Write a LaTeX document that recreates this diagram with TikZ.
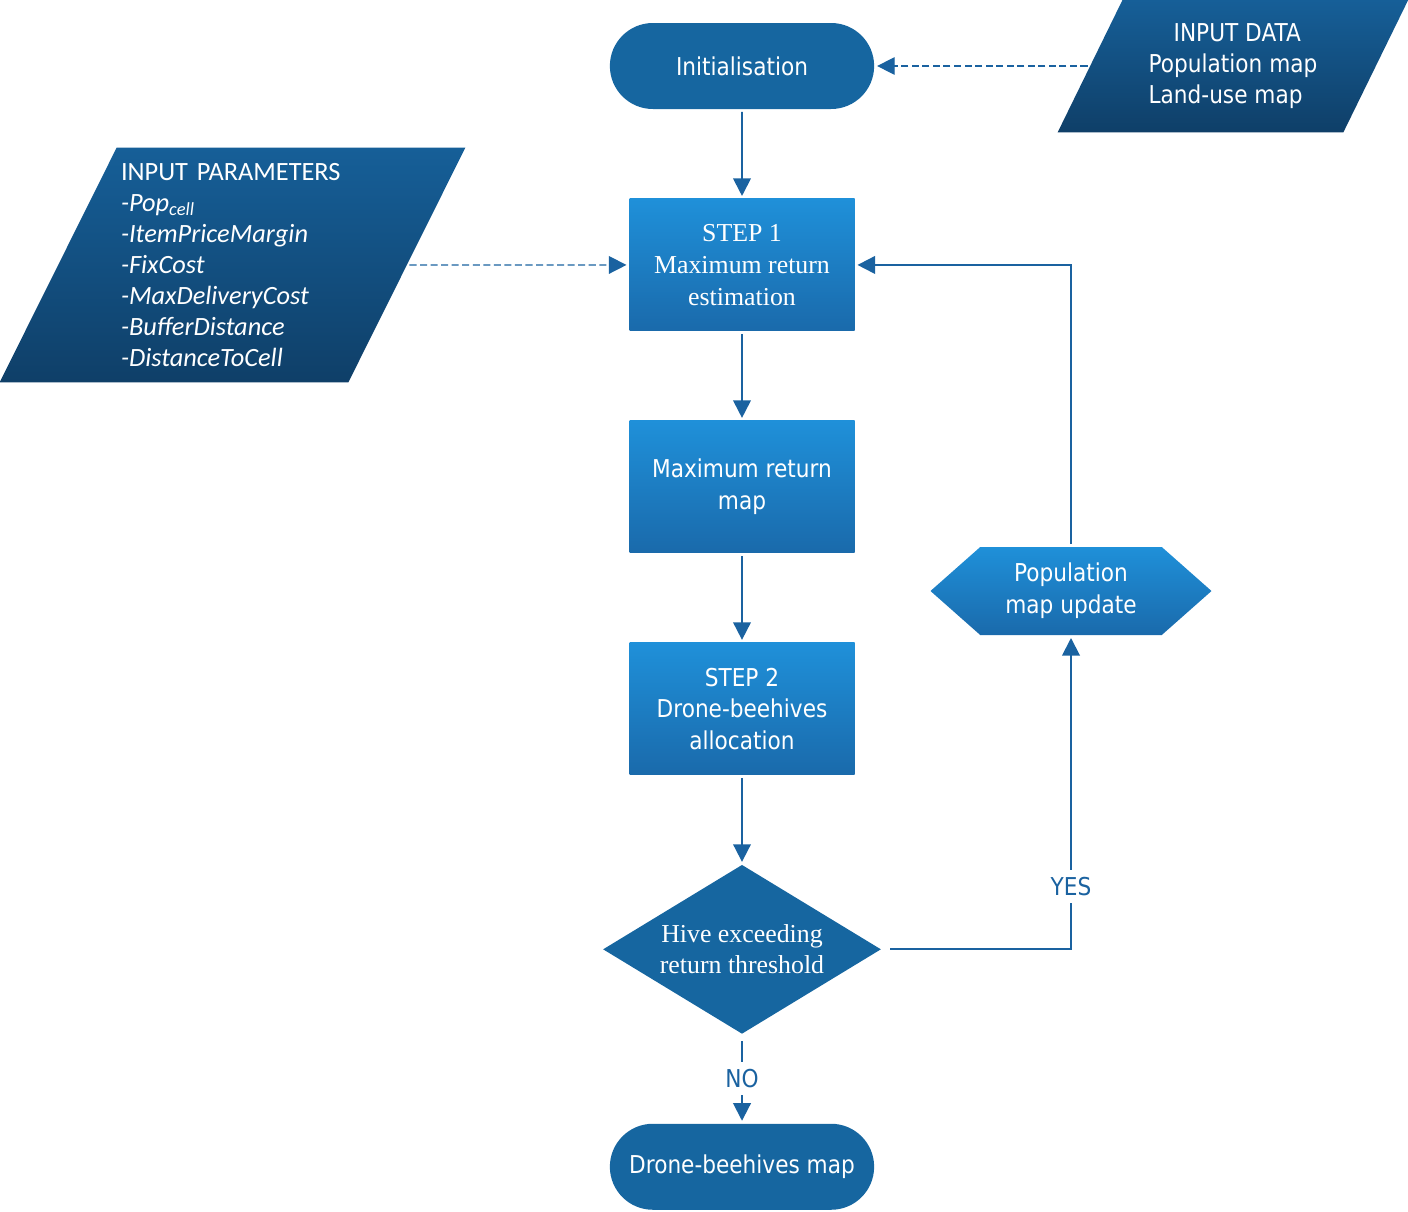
\documentclass[tikz,border=0pt]{standalone}
\usepackage{fontspec}
\setmainfont{DejaVu Sans}[FakeStretch=0.88]
\newfontfamily\boxserif{Liberation Serif}
\newfontfamily\paramfont{Carlito}
\usetikzlibrary{arrows.meta, positioning, shapes.geometric, shapes.misc, shapes.symbols, backgrounds}

\definecolor{flowdark}{HTML}{1666A0}
\definecolor{flowtop}{HTML}{1F90D9}
\definecolor{flowbot}{HTML}{1A6AAB}
\definecolor{paratop}{HTML}{165F98}
\definecolor{parabot}{HTML}{0F3F68}
\definecolor{flowline}{HTML}{1A62A0}

\tikzset{
  terminal/.style={rounded rectangle, fill=flowdark, text=white,
    minimum width=5.52cm, minimum height=1.72cm, font=\fontsize{14}{18}\selectfont},
  process/.style={rectangle, top color=flowtop, bottom color=flowbot, text=white,
    minimum width=4.5cm, minimum height=2.64cm, align=center, font=\fontsize{14}{18}\selectfont},
  decision/.style={diamond, aspect=1.645, fill=flowdark, text=white, inner sep=0pt,
    minimum width=5.56cm, minimum height=3.38cm, align=center},
  hexbox/.style={signal, signal to=east and west, signal pointer angle=83,
    top color=flowtop, bottom color=flowbot, text=white,
    minimum width=5.62cm, minimum height=1.76cm, align=center, font=\fontsize{14}{18}\selectfont},
  datatext/.style={rectangle, text=white, inner sep=0pt},
  answer/.style={fill=white, text=flowline, inner xsep=2pt, inner ysep=4pt, font=\fontsize{14}{16}\selectfont},
  flow/.style={->, draw=flowline, line width=1.1pt, >={Triangle[length=10pt, width=10pt]},
    shorten >=1.5pt, shorten <=1.5pt},
  feed/.style={flow, line width=0.8pt, dash pattern=on 4pt off 2pt},
}

\begin{document}
\begin{tikzpicture}[node distance=1.785cm]
  \useasboundingbox (0,0) rectangle (28.16,-24.24);

  % main column
  \node[terminal] (init) at (14.84,-1.32) {Initialisation};
  \node[process, below=of init, font=\boxserif\fontsize{14.7}{18}\selectfont] (step1) {STEP 1\\Maximum return\\estimation};
  \node[process, below=of step1] (maxret) {Maximum return\\map};
  \node[process, below=of maxret] (step2) {STEP 2\\Drone-beehives\\allocation};
  \node[decision, below=of step2, font=\boxserif\fontsize{14.7}{18}\selectfont] (hive) {Hive exceeding\\return threshold};
  \node[terminal, below=of hive] (beemap) {Drone-beehives map};

  % loop back
  \node[hexbox] (update) at (21.42,-11.82) {Population\\map update};

  % inputs
  \node[datatext, minimum width=5.7cm, minimum height=2.64cm, align=left,
    font=\fontsize{14}{17.6}\selectfont] (indata) at (24.66,-1.32)
    {\hspace*{0.5cm}INPUT DATA\\Population map\\Land-use map};
  \node[datatext, minimum width=6.96cm, minimum height=4.68cm, inner xsep=1.25cm,
    text width=4.46cm, align=left, font=\paramfont\fontsize{15}{17.7}\selectfont] (params) at (4.65,-5.30)
    {INPUT PARAMETERS\\ \itshape -Pop\textsubscript{cell}\\ \itshape -ItemPriceMargin\\ \itshape -FixCost\\
     \itshape -MaxDeliveryCost\\ \itshape -BufferDistance\\ \itshape -DistanceToCell};

  \begin{scope}[on background layer]
    \shade[top color=paratop, bottom color=parabot]
      ([xshift=0.65cm]indata.north west) -- ([xshift=0.65cm]indata.north east)
      -- ([xshift=-0.65cm]indata.south east) -- ([xshift=-0.65cm]indata.south west) -- cycle;
    \shade[top color=paratop, bottom color=parabot]
      ([xshift=1.17cm]params.north west) -- ([xshift=1.17cm]params.north east)
      -- ([xshift=-1.17cm]params.south east) -- ([xshift=-1.17cm]params.south west) -- cycle;
  \end{scope}

  \draw[flow] (init) -- (step1);
  \draw[flow] (step1) -- (maxret);
  \draw[flow] (maxret) -- (step2);
  \draw[flow] (step2) -- (hive);
  \draw[flow, shorten <=4pt] (hive) -- node[answer] {NO} (beemap);
  \draw[flow, shorten <=5pt] (hive.east) -| node[answer, pos=0.6] {YES} (update.south);
  \draw[flow] (update.north) |- (step1.east);

  \draw[feed] (indata.west) -- (init.east);
  \draw[feed] (params.east) -- (step1.west);
\end{tikzpicture}
\end{document}
